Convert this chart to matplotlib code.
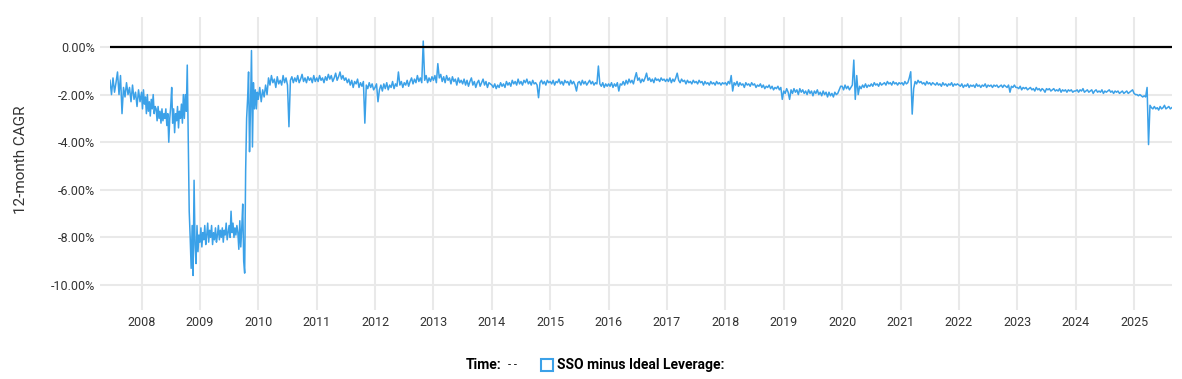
import matplotlib
matplotlib.use("Agg")
import matplotlib.pyplot as plt
from matplotlib.patches import Rectangle
import numpy as np

# SSO minus ideal 2x leverage, 12-month CAGR (%)
# each year list is spread evenly over that year's span
v2007 = [-1.4, -2.0, -1.3, -1.9, -1.5, -1.05, -2.0, -1.2, -2.8, -1.7, -2.1,
         -1.5, -2.0, -1.7, -2.3, -1.6, -2.2, -1.9, -2.5, -1.8, -2.3]
v2008 = [-1.9, -2.6, -1.8, -2.4, -2.1, -2.8, -2.0, -2.7, -2.3, -2.9, -2.2, -2.6, -2.0, -2.8, -2.5,
         -2.6, -3.1, -2.5, -3.0, -2.7, -3.2, -2.6, -3.1, -2.8, -3.0, -2.6, -3.3, -2.8, -4.0, -3.0,
         -2.5, -1.7, -3.2, -2.6, -3.6, -2.8, -3.1, -2.5, -3.4, -2.7, -3.0, -2.4, -3.2, -2.0,
         -3.0, -2.0, -2.7, -0.76, -4.0, -6.9, -8.0, -9.3, -7.5, -9.6, -5.6, -8.3, -9.1, -7.5, -8.6, -7.9]
v2009 = [-8.2, -7.6, -8.4, -7.8, -8.1, -7.5, -8.3, -7.9, -7.4, -8.2, -7.7,
         -8.0, -7.5, -8.3, -7.8, -8.1, -7.6, -8.2, -7.9, -7.5, -8.1, -7.7,
         -8.0, -7.6, -8.2, -7.7, -7.9, -7.4, -8.1, -7.8, -7.5, -8.0, -6.9,
         -7.8, -7.4, -8.0, -7.6, -7.9, -7.5, -7.8, -8.5, -7.3, -8.4, -7.6,
         -6.6, -9.0, -9.5, -5.2, -3.0, -2.2, -1.05, -4.4, -2.5, -0.15, -4.2, -1.5, -2.6, -1.8, -2.6, -1.9]
v2010 = [-2.2, -1.7, -2.3, -1.8, -2.1, -1.6, -2.0,
         -1.3, -1.6, -1.2, -1.5, -1.35, -1.7, -1.25, -1.55, -1.4, -1.6, -1.2, -1.5, -1.3, -1.6,
         -3.35,
         -1.4, -1.25, -1.5, -1.3, -1.45, -1.2, -1.5, -1.35, -1.15, -1.45, -1.3, -1.5, -1.25, -1.4,
         -1.3, -1.5, -1.2, -1.45]
v2011 = [-1.3, -1.45, -1.2, -1.4, -1.3, -1.5, -1.25, -1.4, -1.15, -1.35, -1.2, -1.45, -1.3, -1.1,
         -1.4, -1.25, -1.05, -1.35, -1.2, -1.4,
         -1.3, -1.5, -1.35, -1.6, -1.4, -1.7, -1.45, -1.55, -1.35, -1.7, -1.5, -1.65, -1.45,
         -3.2,
         -1.6, -1.75, -1.5, -1.7, -1.55, -1.8]
v2012 = [-1.7, -1.55, -2.3, -1.8, -1.6, -1.85, -1.55, -1.75, -1.5, -1.8, -1.6, -1.7, -1.45, -1.75,
         -1.55, -1.65,
         -1.05,
         -1.6, -1.45, -1.7, -1.5, -1.6, -1.4, -1.65, -1.45, -1.3, -1.55, -1.35, -1.5, -1.2, -1.45,
         -1.3, -1.5,
         0.25,
         -1.4, -1.2, -1.5, -1.3, -1.45, -1.25]
v2013 = [-1.4, -1.2, -1.5, -0.7,
         -1.3, -1.15, -1.45, -1.25, -1.5, -1.2, -1.4, -1.3, -1.55, -1.25, -1.45, -1.35, -1.6, -1.3,
         -1.5, -1.4,
         -1.55, -1.35, -1.6, -1.4, -1.65, -1.45, -1.3, -1.6, -1.45, -1.7, -1.5, -1.4, -1.65, -1.5,
         -1.35, -1.6, -1.45, -1.7, -1.5, -1.55]
v2014 = [-1.6, -1.7, -1.55, -1.75, -1.6, -1.7, -1.5, -1.65, -1.55, -1.7, -1.45, -1.6, -1.5, -1.65,
         -1.4, -1.55, -1.45, -1.6, -1.35, -1.55, -1.45, -1.6, -1.4, -1.5, -1.35, -1.55, -1.45, -1.6,
         -1.4, -1.55, -1.5, -1.6,
         -2.13,
         -1.5, -1.4, -1.55, -1.45, -1.6, -1.4, -1.5]
v2015 = [-1.45, -1.55, -1.4, -1.6, -1.45, -1.5, -1.35, -1.55, -1.45, -1.6, -1.4, -1.5, -1.45, -1.6,
         -1.4, -1.55, -1.45, -1.6,
         -1.85,
         -1.5, -1.45, -1.6, -1.4, -1.55, -1.45, -1.6, -1.5, -1.4, -1.55, -1.45, -1.6, -1.5, -1.55,
         -0.8,
         -1.55, -1.65, -1.5, -1.7, -1.55, -1.65]
v2016 = [-1.55, -1.65, -1.5, -1.7, -1.55, -1.65, -1.5,
         -1.85,
         -1.55, -1.6, -1.45, -1.6, -1.4, -1.55, -1.35, -1.5, -1.4, -1.55, -1.3,
         -1.08,
         -1.4, -1.3, -1.5, -1.35, -1.45, -1.3,
         -1.1,
         -1.4, -1.3, -1.45, -1.35, -1.5, -1.3, -1.4, -1.35, -1.45, -1.3, -1.4, -1.35, -1.45]
v2017 = [-1.35, -1.45, -1.3, -1.5, -1.35, -1.45, -1.3,
         -1.1,
         -1.4, -1.5, -1.35, -1.45, -1.4, -1.55, -1.4, -1.5, -1.45, -1.55, -1.4, -1.5, -1.45, -1.55,
         -1.4, -1.5, -1.45, -1.6, -1.45, -1.55, -1.5, -1.6, -1.45, -1.55, -1.5, -1.6, -1.45, -1.55,
         -1.5, -1.6, -1.5, -1.55]
v2018 = [-1.5, -1.6, -1.45, -1.55, -1.2, -1.85,
         -1.5, -1.6, -1.45, -1.65, -1.5, -1.6, -1.55, -1.7, -1.5, -1.6, -1.55, -1.65, -1.5, -1.6,
         -1.55, -1.7, -1.6, -1.65, -1.55, -1.7, -1.6, -1.75, -1.65, -1.7, -1.6, -1.75, -1.65, -1.8,
         -1.7, -1.75, -1.65, -1.8, -1.7, -2.2]
v2019 = [-1.85, -1.95, -1.75, -1.9, -2.2, -1.8, -1.95, -1.75, -1.9, -1.8, -2.0, -1.75, -1.9, -1.8,
         -1.95, -1.85, -2.0, -1.8, -1.95, -1.85, -2.05, -1.85, -1.95, -1.8, -2.0, -1.9, -2.05, -1.85,
         -2.0, -1.9, -2.1, -1.9, -2.05, -1.95, -2.1, -1.9, -2.0, -1.95, -1.8, -1.65]
v2020 = [-1.65, -1.8, -1.6, -1.75, -1.65, -1.8, -1.7, -1.6,
         -0.55, -2.2, -1.2, -2.0,
         -1.65, -1.75, -1.6, -1.7, -1.55, -1.7, -1.6, -1.65, -1.55, -1.65, -1.5, -1.6, -1.55, -1.65,
         -1.5, -1.6, -1.55, -1.5, -1.6, -1.45, -1.55, -1.5, -1.6, -1.45, -1.55, -1.5, -1.6, -1.5]
v2021 = [-1.55, -1.5, -1.6, -1.45, -1.55, -1.5,
         -1.3, -1.04, -2.82, -1.75,
         -1.45, -1.55, -1.4, -1.5, -1.45, -1.55, -1.5, -1.6, -1.45, -1.55, -1.5, -1.6, -1.5, -1.55,
         -1.6, -1.5, -1.6, -1.55, -1.65, -1.5, -1.6, -1.55, -1.65, -1.55, -1.6, -1.5, -1.65, -1.55,
         -1.6, -1.55]
v2022 = [-1.6, -1.65, -1.55, -1.7, -1.6, -1.65, -1.55, -1.7, -1.6, -1.65, -1.6, -1.7, -1.55, -1.65,
         -1.6, -1.7, -1.6, -1.65, -1.55, -1.7, -1.6, -1.65, -1.6, -1.7, -1.6, -1.65, -1.6, -1.7,
         -1.65, -1.6, -1.7, -1.6, -1.65, -1.7, -1.6,
         -1.9,
         -1.65, -1.7, -1.6, -1.7]
v2023 = [-1.7, -1.75, -1.65, -1.8, -1.7, -1.75, -1.7, -1.8, -1.75, -1.7, -1.8, -1.75, -1.85, -1.7,
         -1.8, -1.75, -1.85, -1.75, -1.8, -1.9, -1.75, -1.8, -1.75, -1.85, -1.8, -1.75, -1.85, -1.8,
         -1.85, -1.75, -1.9, -1.8, -1.85, -1.8, -1.9, -1.8, -1.85, -1.8, -1.9, -1.85]
v2024 = [-1.85, -1.8, -1.9, -1.8, -1.85, -1.75, -1.9, -1.85, -1.8, -1.9, -1.85, -1.8, -1.95, -1.85,
         -1.8, -1.9, -1.85, -1.9, -1.8, -1.95, -1.85, -1.9, -1.85, -1.8, -1.9, -1.85, -1.95, -1.85,
         -1.9, -1.85, -1.95, -1.9, -1.85, -1.95, -1.9, -1.85, -1.95, -1.9, -1.85, -1.8]
v2025 = [-1.95, -2.0, -2.0, -2.05, -2.0, -2.05, -2.1, -2.05, -2.1,
         -1.7, -4.1, -2.45,
         -2.55, -2.6, -2.5, -2.6, -2.55, -2.65, -2.5, -2.6, -2.55, -2.45, -2.6, -2.55, -2.5, -2.6,
         -2.55]

years = list(range(2007, 2026))
year_values = [v2007, v2008, v2009, v2010, v2011, v2012, v2013, v2014, v2015, v2016,
               v2017, v2018, v2019, v2020, v2021, v2022, v2023, v2024, v2025]
series_start = 2007.46   # first 12-month window ends mid 2007
series_end = 2025.67

y_ticks = [0, -2, -4, -6, -8, -10]
y_tick_labels = ["0.00%", "-2.00%", "-4.00%", "-6.00%", "-8.00%", "-10.00%"]
x_ticks = list(range(2008, 2026))

BLUE = "#3ba1e8"
GRID = "#e9e9e9"


def build_series():
    t = []
    v = []
    for yr, vals in zip(years, year_values):
        a = max(yr, series_start)
        b = min(yr + 1, series_end)
        t.append(np.linspace(a, b, len(vals), endpoint=False))
        v.append(np.array(vals))
    return np.concatenate(t), np.concatenate(v)


def draw(t, v):
    plt.rcParams['font.family'] = ['Roboto', 'DejaVu Sans']
    W, H = 1182, 379
    fig = plt.figure(figsize=(W / 100, H / 100), dpi=100)
    ax = fig.add_axes([110 / W, 1 - 310 / H, 1062 / W, 293 / H])

    ax.plot(t, v, color=BLUE, lw=1.1, zorder=3)
    ax.axhline(0, color="black", lw=1.6, zorder=4)

    ax.set_xlim(2007.46, 2025.65)
    ax.set_ylim(-11.05, 1.26)

    ax.set_yticks(y_ticks)
    ax.set_yticklabels(y_tick_labels)
    ax.set_xticks(x_ticks)
    ax.set_xticklabels([str(y) for y in x_ticks])

    ax.grid(True, color=GRID, lw=1.5, zorder=0)
    ax.set_axisbelow(True)
    for s in ax.spines.values():
        s.set_visible(False)
    ax.tick_params(axis="y", length=7.2, width=1.5, color=GRID, pad=3.5,
                   labelsize=9, labelcolor="#333333")
    ax.tick_params(axis="x", length=0, pad=4, labelsize=9, labelcolor="#333333")

    fig.text(21 / W, 1 - 160 / H, "12-month CAGR", rotation=90, ha="center", va="center",
             fontsize=11, color="#333333")

    # legend row at the bottom
    ly = 1 - 365 / H
    fig.text(466 / W, ly, "Time:", fontsize=10, fontweight="bold", va="center")
    fig.text(508 / W, ly, "- -", fontsize=8, va="center")
    fig.patches.append(Rectangle((541 / W, 1 - 371 / H), 12 / W, 12 / H, transform=fig.transFigure,
                                 facecolor="white", edgecolor=BLUE, lw=1.5, figure=fig))
    fig.text(557 / W, ly, "SSO minus Ideal Leverage:", fontsize=10, fontweight="bold", va="center")

    fig.savefig("out.png", dpi=100)


def main():
    t, v = build_series()
    draw(t, v)


if __name__ == '__main__':
    main()
